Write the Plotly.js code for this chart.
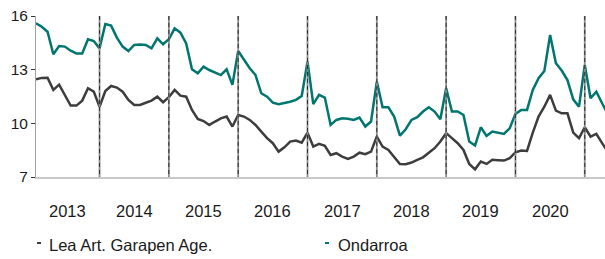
<!DOCTYPE html>
<html>
<head>
<meta charset="utf-8">
<script src="https://cdn.plot.ly/plotly-3.0.1.min.js"></script>
<style>html,body{margin:0;padding:0;background:#fff;}#chart{width:605px;height:259px;}</style>
</head>
<body>
<div id="chart"></div>
<script>
// Monthly series, February 2013 to May 2021
const startYear = 2013, startMonth = 2;
const seriesNames = ["Lea Art. Garapen Age.", "Ondarroa"];
const leaArt = [12.46,12.54,12.55,11.87,12.16,11.57,10.99,10.99,11.27,11.96,11.77,
 10.93,11.81,12.09,12.00,11.77,11.31,11.03,11.03,11.15,11.27,11.49,11.18,
 11.46,11.87,11.55,11.49,10.75,10.25,10.13,9.91,10.10,10.28,10.38,9.82,
 10.47,10.38,10.19,9.91,9.54,9.17,8.89,8.42,8.66,8.98,9.04,8.92,
 9.48,8.70,8.85,8.74,8.23,8.33,8.14,8.01,8.14,8.36,8.28,8.42,
 9.26,8.70,8.51,8.14,7.73,7.71,7.81,7.96,8.10,8.36,8.61,8.98,
 9.45,9.17,8.89,8.51,7.73,7.43,7.86,7.73,7.96,7.94,7.92,8.05,
 8.38,8.48,8.46,9.48,10.38,10.93,11.59,10.71,10.56,10.56,9.48,9.17,
 9.78,9.26,9.41,8.89,8.40];
const ondarroa = [15.59,15.40,15.12,13.86,14.32,14.29,14.06,13.91,13.91,14.70,14.60,
 14.19,15.55,15.46,14.79,14.29,14.04,14.38,14.40,14.38,14.19,14.75,14.42,
 14.70,15.31,15.07,14.47,13.02,12.80,13.17,12.98,12.83,12.70,13.02,12.15,
 14.04,13.54,13.08,12.70,11.68,11.49,11.16,11.07,11.12,11.21,11.31,11.53,
 13.45,11.07,11.59,11.44,9.91,10.19,10.28,10.26,10.19,10.32,9.82,10.10,
 12.33,10.90,10.90,10.38,9.31,9.67,10.19,10.34,10.66,10.90,10.66,10.23,
 11.96,10.66,10.66,10.47,8.98,8.76,9.78,9.30,9.54,9.48,9.41,9.72,
 10.53,10.75,10.75,11.87,12.52,12.93,14.94,13.36,12.95,12.42,11.34,10.93,
 13.26,11.40,11.77,11.12,10.50];
const yearLabels = ["2013","2014","2015","2016","2017","2018","2019","2020"];
const yTicks = [7,10,13,16];

const months = leaArt.map((_, i) => {
  const m = startMonth - 1 + i;
  const y = startYear + Math.floor(m / 12);
  return y + "-" + String(m % 12 + 1).padStart(2, "0");
});
const xs = months.map((_, i) => i);
// index of January of each year
const janIdx = {};
months.forEach((m, i) => { if (m.endsWith("-01")) janIdx[m.slice(0,4)] = i; });

const teal = "#00766f", dark = "#3d3d3d";
const FONT = "Liberation Sans, Arial, sans-serif";
const traces = [
  {x: xs, y: leaArt, name: seriesNames[0], type: "scatter", mode: "lines",
   line: {color: dark, width: 2.5}, text: months, hovertemplate: "%{text}: %{y}<extra>%{fullData.name}</extra>"},
  {x: xs, y: ondarroa, name: seriesNames[1], type: "scatter", mode: "lines",
   line: {color: teal, width: 2.5}, text: months, hovertemplate: "%{text}: %{y}<extra>%{fullData.name}</extra>"}
];

const shapes = [];
Object.keys(janIdx).forEach(y => {
  const xi = janIdx[y];
  shapes.push({type: "line", xref: "x", yref: "y", x0: xi, x1: xi, y0: 6.78, y1: 16,
    line: {color: "#8c8c8c", width: 1.8}, layer: "above"});
  shapes.push({type: "line", xref: "x", yref: "y", x0: xi, x1: xi, y0: 6.78, y1: 16,
    line: {color: "#222", width: 0.9, dash: "4px,3px"}, layer: "above"});
});

const annotations = [];
yearLabels.forEach(y => {
  const first = months.findIndex(m => m.startsWith(y));
  const next = janIdx[String(+y + 1)];
  annotations.push({xref: "x", yref: "paper", x: (first + next) / 2, y: -0.211,
    text: y, showarrow: false, xanchor: "center", yanchor: "middle",
    font: {family: FONT, size: 16.5, color: "#1a1a1a"}});
});
// custom legend
const legendItems = [
  {name: seriesNames[0], color: dark, x0: 37, tx: 47},
  {name: seriesNames[1], color: teal, x0: 325, tx: 336}
];
const W = 569, L = 36;
legendItems.forEach(it => {
  shapes.push({type: "line", xref: "paper", yref: "paper",
    x0: (it.x0 - L) / W, x1: (it.x0 + 4 - L) / W, y0: -0.41, y1: -0.41,
    line: {color: it.color, width: 2}});
  annotations.push({xref: "paper", yref: "paper", x: (it.tx - L) / W, y: -0.425,
    text: it.name, showarrow: false, xanchor: "left", yanchor: "middle",
    font: {family: FONT, size: 16.5, color: "#1a1a1a"}});
});

const layout = {
  width: 605, height: 259,
  margin: {l: 36, r: 0, t: 16, b: 82, pad: 0},
  paper_bgcolor: "#fff", plot_bgcolor: "#fff",
  showlegend: false,
  xaxis: {range: [0, 98.5], showgrid: false, zeroline: false, showticklabels: false,
    ticks: "", showline: true, linecolor: "#c8c8c8", linewidth: 2, fixedrange: true},
  yaxis: {range: [7, 16], tickvals: yTicks, ticktext: yTicks.map(String),
    showgrid: false, zeroline: false, ticks: "outside", ticklen: 4, tickwidth: 1,
    tickcolor: "#333", showline: true, linecolor: "#a0a0a0", linewidth: 1,
    tickfont: {family: FONT, size: 15.5, color: "#1a1a1a"}},
  shapes: shapes,
  annotations: annotations,
  font: {family: FONT}
};
Plotly.newPlot("chart", traces, layout, {displayModeBar: false, staticPlot: true});
</script>
</body>
</html>
